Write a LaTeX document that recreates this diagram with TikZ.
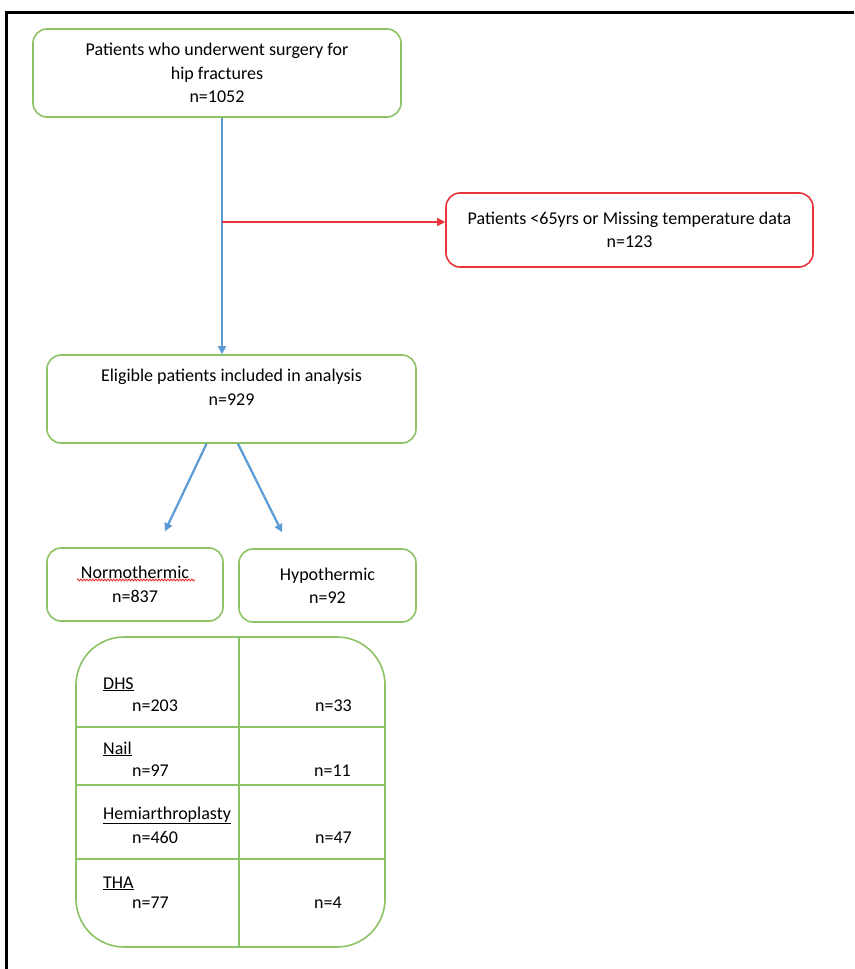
\documentclass[tikz,border=0pt]{standalone}
\usepackage{fontspec}
\setmainfont{Carlito}
\usetikzlibrary{arrows.meta,positioning,calc,decorations.pathmorphing}
\definecolor{boxgreen}{HTML}{8DC266}
\definecolor{exclred}{HTML}{E8353B}
\definecolor{flowblue}{HTML}{5B9BD5}

\begin{document}
\begin{tikzpicture}[x=1pt, y=-1pt,
  every node/.style={font=\fontsize{18}{23.5}\selectfont, align=center},
  stage/.style={
    draw=boxgreen, line width=1.6pt, rounded corners=14pt, inner sep=2pt
  },
  excl/.style={
    draw=exclred, line width=1.6pt, rounded corners=14pt, inner sep=2pt
  },
  tablerule/.style={draw=boxgreen, line width=1.6pt},
  flow/.style={-{Triangle[length=8pt, width=8pt]}, draw=flowblue, line width=2.2pt},
  cutoff/.style={-{Triangle[length=8pt, width=8pt]}, draw=exclred, line width=1.4pt},
  cell/.style={anchor=base west, inner sep=0pt}
]
  \useasboundingbox (0,0) rectangle (854,969);
  % Frame
  \draw[line width=2.5pt] (6.5,969) -- (6.5,12.5) -- (854,12.5);

  % Screening
  \node[stage, minimum width=368pt, minimum height=88pt] (cohort) at (217,73)
    {Patients who underwent surgery for\\hip fractures\\n=1052};
  \node[excl, minimum width=367pt, minimum height=74pt] (excluded) at (629.5,230)
    {Patients <65yrs or Missing temperature data\\n=123};
  \node[stage, minimum width=369pt, minimum height=88pt] (eligible) at (231.5,399)
    {Eligible patients included in analysis\\n=929\\ \mbox{}};

  \coordinate (split) at (222,222);
  \draw[flow] (cohort.south -| split) -- (eligible.north -| split);
  \draw[cutoff] (split) -- (split -| excluded.west);

  % Temperature groups
  \node[stage, minimum width=176pt, minimum height=73pt] (normo) at (135,584.5)
    {Normothermic\\n=837};
  \node[stage, minimum width=177pt, minimum height=73pt] (hypo) at (327.5,585.5)
    {Hypothermic\\n=92};

  \draw[flow] ([xshift=-25pt]eligible.south) -- ([xshift=30pt, yshift=16pt]normo.north);
  \draw[flow] ([xshift=6.5pt]eligible.south) -- ([xshift=-45.5pt, yshift=16pt]hypo.north);
  \draw[exclred, line width=0.9pt, decorate,
        decoration={snake, amplitude=0.9pt, segment length=3pt}]
    ([xshift=-58pt, yshift=4.5pt]normo.center) -- ([xshift=60pt, yshift=4.5pt]normo.center);

  % Procedure table
  \node[tablerule, rounded corners=48pt, minimum width=309pt, minimum height=310pt]
    (procs) at (230.5,792) {};
  \draw[tablerule] ([xshift=8.5pt]procs.north) -- ([xshift=8.5pt]procs.south);
  \draw[tablerule] (procs.west |- 0,727) -- (procs.east |- 0,727);
  \draw[tablerule] (procs.west |- 0,785) -- (procs.east |- 0,785);
  \draw[tablerule] (procs.west |- 0,859) -- (procs.east |- 0,859);

  \node[cell] (dhs)     at (103,689) {\underline{DHS}};
  \node[cell] (dhsN)    at (132,711) {n=203};
  \node[cell] (dhsH)    at (315,711) {n=33};
  \node[cell] (nail)    at (103,754) {\underline{Nail}};
  \node[cell] (nailN)   at (132,776) {n=97};
  \node[cell] (nailH)   at (314,776) {n=11};
  \node[cell] (hemi)    at (103,819) {\underline{Hemiarthroplasty}};
  \node[cell] (hemiN)   at (132,843) {n=460};
  \node[cell] (hemiH)   at (315,843) {n=47};
  \node[cell] (tha)     at (103,888) {\underline{THA}};
  \node[cell] (thaN)    at (132,908) {n=77};
  \node[cell] (thaH)    at (314,908) {n=4};

\end{tikzpicture}
\end{document}
